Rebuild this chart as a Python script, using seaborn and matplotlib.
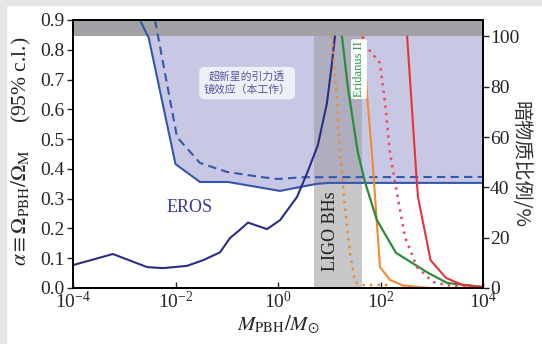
import matplotlib
matplotlib.use("Agg")
import matplotlib.pyplot as plt
import seaborn as sns
import pandas as pd
import numpy as np
from matplotlib.patches import Rectangle

# ============================================================
# 数据
# ============================================================
# 超新星引力透镜约束（本工作），左轴 alpha
sn_solid_m = [2.03e-3, 3.0e-3, 1.0e-2, 3.0e-2, 0.106, 1.09, 5.8, 10.0, 1e4]
sn_solid_a = [0.90, 0.84, 0.416, 0.356, 0.356, 0.326, 0.350, 0.353, 0.353]
sn_dash_m = [3.98e-3, 1.07e-2, 3.0e-2, 0.10, 0.45, 1.0, 3.0, 1e4]
sn_dash_a = [0.90, 0.507, 0.42, 0.39, 0.373, 0.366, 0.372, 0.373]

# 右轴：暗物质比例 (%)
eros_m = [1e-4, 6e-4, 2.8e-3, 5.7e-3, 0.0168, 0.035, 0.074, 0.116, 0.166,
          0.26, 0.61, 1.1, 2.35, 3.7, 6.0, 9.0, 11.2, 12.9]
eros_f = [9.1, 13.5, 8.3, 7.9, 8.8, 11.1, 14.2, 19.9, 22.5,
          26.0, 23.4, 27.0, 36.2, 45.7, 56.8, 73.4, 88.8, 100.0]
orange_dot_m = [11.3, 13.5, 16.2, 20.3, 25.4, 31.8, 40.0, 153.0]
orange_dot_f = [100.0, 80.0, 53.6, 32.0, 13.9, 2.4, 1.2, 1.2]
orange_m = [45.7, 55.0, 68.0, 75.0, 97.7, 153.0, 275.0, 600.0, 1000.0]
orange_f = [100.0, 76.0, 53.6, 41.7, 8.3, 3.2, 1.0, 0.3, 0.0]
green_m = [17.7, 23.0, 36.0, 50.0, 85.0, 200.0, 850.0, 2000.0, 1e4]
green_f = [100.0, 80.0, 54.0, 42.0, 27.0, 14.0, 6.0, 2.0, 0.4]
red_dot_m = [45.0, 50.0, 97.5, 123.0, 153.0, 209.0, 300.0, 515.0, 1050.0, 2200.0, 1e4]
red_dot_f = [100.0, 96.6, 89.4, 73.5, 53.6, 37.8, 20.3, 8.3, 2.4, 1.0, 0.2]
red_m = [331.0, 500.0, 540.0, 950.0, 1900.0, 4000.0, 1e4]
red_f = [100.0, 45.0, 36.0, 11.0, 4.0, 1.2, 0.4]

LIGO_RANGE = (5.0, 44.0)
ALPHA_100 = 0.845   # 左轴上 100% 对应的位置
Y_TOP = 0.9

x_ticks = [1e-4, 1e-3, 1e-2, 1e-1, 1e0, 1e1, 1e2, 1e3, 1e4]
x_ticklabels = [r"$10^{-4}$", r"$10^{-3}$", r"$10^{-2}$", r"$10^{-1}$",
                r"$10^{0}$", r"$10^{1}$", r"$10^{2}$", r"$10^{3}$", r"$10^{4}$"]
y_ticks = [0.0, 0.1, 0.2, 0.3, 0.4, 0.5, 0.6, 0.7, 0.8, 0.9]
f_ticks = [0, 20, 40, 60, 80, 100]

# ============================================================
# 样式
# ============================================================
sns.set_theme(style="white")
plt.rcParams["font.family"] = ["Liberation Serif", "Noto Sans CJK SC", "DejaVu Sans"]
plt.rcParams["mathtext.fontset"] = "stix"
plt.rcParams["axes.unicode_minus"] = False

LAVENDER = "#c8c8e5"
BLUE = "#3457ad"
NAVY = "#2b2e86"
GREEN = "#2e8b3c"
ORANGE = "#f28a2e"
RED = "#e8323a"
RED_DOT = "#ee4a5a"
CJK = ["Noto Sans CJK SC", "DejaVu Sans"]

fig = plt.figure(figsize=(5.42, 3.44), dpi=100, facecolor="white")
# 外框浅灰条
fig.patches.append(Rectangle((0, 0), 6 / 542, 1, transform=fig.transFigure,
                             color="#e6e6e6", zorder=0))
fig.patches.append(Rectangle((0, 1 - 5 / 344), 1, 5 / 344, transform=fig.transFigure,
                             color="#e6e6e6", zorder=0))
ax = fig.add_axes([73 / 542, 1 - 288 / 344, 410 / 542, 268 / 344])
ax.set_facecolor("white")

# 填充区域
ax.fill_between(sn_solid_m, sn_solid_a, Y_TOP, color=LAVENDER, zorder=1, lw=0)
ax.axvspan(*LIGO_RANGE, ymin=0, ymax=ALPHA_100 / Y_TOP, color="#9a9aa0",
           alpha=0.55, zorder=2, lw=0)
ax.axhspan(ALPHA_100, Y_TOP, color="#a2a2a6", zorder=2, lw=0)

sns.lineplot(x=sn_solid_m, y=sn_solid_a, ax=ax, color=BLUE, lw=1.5, zorder=4)
sns.lineplot(x=sn_dash_m, y=sn_dash_a, ax=ax, color=BLUE, lw=1.5, zorder=4,
             linestyle=(0, (4, 2.5)))

ax.set_xscale("log")
ax.set_xlim(1e-4, 1e4)
ax.set_ylim(0, Y_TOP)
ax.set_xticks(x_ticks)
ax.set_xticklabels(x_ticklabels)
ax.set_yticks(y_ticks)
ax.set_yticklabels([f"{v:.1f}" for v in y_ticks])
ax.xaxis.set_minor_locator(matplotlib.ticker.LogLocator(base=10, subs=np.arange(2, 10), numticks=20))
ax.xaxis.set_minor_formatter(matplotlib.ticker.NullFormatter())
ax.tick_params(axis="x", which="major", direction="in", length=4, width=1,
               labelsize=14, pad=2, bottom=True)
ax.tick_params(axis="x", which="minor", direction="in", length=2, width=0.8, bottom=True)
ax.tick_params(axis="y", direction="out", length=4, width=1, labelsize=14, pad=2, left=True)
for s in ax.spines.values():
    s.set_color("black")
    s.set_linewidth(1.3)

ax.set_xlabel(r"$M_{\rm PBH}/M_{\odot}$", fontsize=15, labelpad=1)
ax.set_ylabel(r"$\alpha \equiv \Omega_{\rm PBH}/\Omega_{\rm M}$     (95% c.l.)",
              fontsize=15.5)
ax.yaxis.label.set_va("center")
ax.yaxis.set_label_coords(-0.125, 0.51)

ax.text(0.0192, 0.272, "EROS", color="#3a3c9c", fontsize=13, ha="center",
        va="center", zorder=5)
ax.text(10.4, 0.19, "LIGO BHs", color="#222222", fontsize=13, rotation=90,
        ha="center", va="center", zorder=5)
ax.text(0.25, 0.688, "超新星的引力透\n镜效应（本工作）", color="#5555a5",
        fontsize=7.8, ha="center", va="center", linespacing=1.3, zorder=6,
        family=CJK,
        bbox=dict(boxstyle="round,pad=0.4,rounding_size=0.5", fc="#f4f4fa",
                  ec="none", alpha=0.9))

# 右轴
ax2 = ax.twinx()
ax2.set_ylim(0, 100 * Y_TOP / ALPHA_100)
sns.lineplot(x=eros_m, y=eros_f, ax=ax2, color=NAVY, lw=1.5)
sns.lineplot(x=orange_dot_m, y=orange_dot_f, ax=ax2, color=ORANGE, lw=1.8,
             linestyle=(0, (1, 2)))
sns.lineplot(x=orange_m, y=orange_f, ax=ax2, color=ORANGE, lw=1.5)
sns.lineplot(x=green_m, y=green_f, ax=ax2, color=GREEN, lw=1.6)
sns.lineplot(x=red_dot_m, y=red_dot_f, ax=ax2, color=RED_DOT, lw=1.8,
             linestyle=(0, (1, 2)))
sns.lineplot(x=red_m, y=red_f, ax=ax2, color=RED, lw=1.5)
ax2.set_xscale("log")
ax2.set_xlim(1e-4, 1e4)
ax2.set_yticks(f_ticks)
ax2.set_yticklabels([str(v) for v in f_ticks])
ax2.tick_params(axis="y", direction="out", length=4, width=1, labelsize=14, pad=1, right=True)
ax2.set_ylabel("暗物质比例/%", fontsize=14.5, rotation=-90, color="#333333",
               family=CJK)
ax2.yaxis.label.set_va("center")
ax2.yaxis.label.set_ha("center")
ax2.yaxis.set_label_coords(1.09, 0.46)
ax2.text(38, 100 * 0.735 / ALPHA_100, "Eridanus II", color="#1f9a3a", fontsize=9,
         rotation=90, ha="center", va="center", zorder=6,
         bbox=dict(boxstyle="round,pad=0.15", fc="white", ec="none"))
for s in ax2.spines.values():
    s.set_color("black")
    s.set_linewidth(1.3)

fig.savefig("out.png", dpi=100)
